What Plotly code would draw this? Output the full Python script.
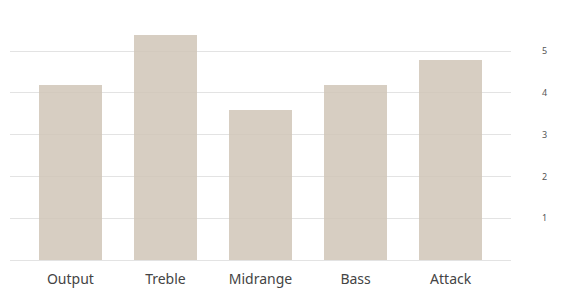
import plotly.graph_objects as go

categories = ["Output", "Treble", "Midrange", "Bass", "Attack"]
values = [4.2, 5.4, 3.6, 4.2, 4.8]
y_ticks = [1, 2, 3, 4, 5]

fig = go.Figure(go.Bar(
    x=categories, y=values,
    width=0.66,
    marker=dict(color="rgb(208,197,183)", opacity=0.85, line=dict(width=0)),
    hoverinfo="skip",
))

fig.update_layout(
    width=567, height=302,
    margin=dict(l=10, r=56, t=22, b=42),
    paper_bgcolor="white", plot_bgcolor="white",
    showlegend=False,
    bargap=0,
    xaxis=dict(
        range=[-0.635, 4.635],
        showgrid=False, showline=False, ticks="",
        tickfont=dict(family="Noto Sans", size=14, color="#444"),
        ticklabelstandoff=9,
    ),
    yaxis=dict(
        side="right", range=[0, 5.7],
        tickvals=y_ticks, ticktext=[str(v) for v in y_ticks],
        showgrid=True, gridcolor="#e3e3e3", gridwidth=1,
        zeroline=True, zerolinecolor="#e3e3e3", zerolinewidth=1,
        showline=False, ticks="",
        tickfont=dict(family="Noto Sans", size=9, color="#555"),
        ticklabelstandoff=30,
    ),
)

fig.write_html("out.html")
